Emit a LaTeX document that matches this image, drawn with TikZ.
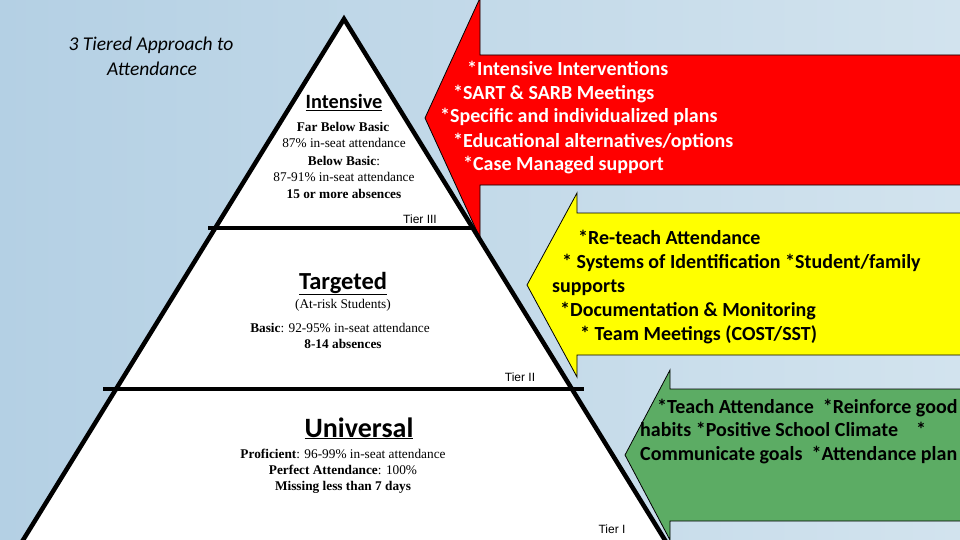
\documentclass[tikz,border=0pt]{standalone}
\usepackage{fontspec}
\setmainfont{Liberation Serif}
\newfontfamily\calfont{Carlito}
\newfontfamily\arifont{Liberation Sans}
\definecolor{bgl}{RGB}{180,208,228}
\definecolor{bgr}{RGB}{210,227,238}
\definecolor{arrred}{RGB}{255,0,0}
\definecolor{arryel}{RGB}{255,255,0}
\definecolor{arrgrn}{RGB}{92,172,100}
\begin{document}
\begin{tikzpicture}[x=1pt,y=-1pt,
  arrowshape/.style={draw=black, line width=0.8pt, line join=miter},
  tierline/.style={line width=4.5pt},
  times/.style={font=\fontsize{13.3}{15}\selectfont, anchor=base, inner sep=0pt},
  tierlab/.style={font=\arifont\fontsize{12}{14}\selectfont, anchor=base, inner sep=0pt},
  armtext/.style={font=\calfont\bfseries\fontsize{20}{23}\selectfont, anchor=base west, inner sep=0pt},
  tiertitle/.style={font=\calfont\bfseries, anchor=base, inner sep=0pt}
]
\clip (0,0) rectangle (960,540);
\shade[left color=bgl, right color=bgr] (0,0) rectangle (960,540);

% arrows
\draw[arrowshape, fill=arrred] (970,55) -- (480,55) -- (480,-2) -- (425,118) -- (480,238) -- (480,185) -- (970,185) -- cycle;
\draw[arrowshape, fill=arryel] (970,213) -- (577,213) -- (577,193) -- (527,285) -- (577,377) -- (577,355) -- (970,355) -- cycle;
\draw[arrowshape, fill=arrgrn] (970,389) -- (670,389) -- (670,370) -- (625,455) -- (670,540) -- (670,521) -- (970,521) -- cycle;

% pyramid
\draw[line width=4.5pt, fill=white, line join=miter] (344,19) -- (20,545) -- (668,545) -- cycle;
\draw[tierline] (208,228) -- (473,228);
\draw[tierline] (103,389) -- (584,389);

% title
\node[font=\calfont\itshape\fontsize{19.5}{22}\selectfont, anchor=base, inner sep=0pt] (t1) at (151,51) {3 Tiered Approach to};
\node[font=\calfont\itshape\fontsize{19.5}{22}\selectfont, anchor=base, inner sep=0pt] (t2) at (152,75.5) {Attendance};

% Intensive
\node[tiertitle, font=\calfont\bfseries\fontsize{20.3}{23}\selectfont] (int) at (344,109) {\underline{Intensive}};
\node[times] (i1) at (343,132) {\textbf{Far Below Basic}};
\node[times] (i2) at (344,148) {87\% in-seat attendance};
\node[times] (i3) at (344,166) {\textbf{Below Basic}:};
\node[times] (i4) at (344,182) {87-91\% in-seat attendance};
\node[times] (i5) at (344,198) {\textbf{15 or more absences}};
\node[tierlab] (tier3) at (420,223) {Tier III};

% Targeted
\node[tiertitle, font=\calfont\bfseries\fontsize{24.5}{28}\selectfont] (tar) at (343,289) {\underline{Targeted}};
\node[times] (a1) at (343,308) {(At-risk Students)};
\node[times] (a2) at (340,332) {\textbf{Basic}: 92-95\% in-seat attendance};
\node[times] (a3) at (343,348) {\textbf{8-14 absences}};
\node[tierlab] (tier2) at (520,381) {Tier II};

% Universal
\node[tiertitle, font=\calfont\bfseries\fontsize{28}{32}\selectfont] (uni) at (359,437) {\underline{Universal}};
\node[times] (u1) at (343,458) {\textbf{Proficient}: 96-99\% in-seat attendance};
\node[times] (u2) at (343,474) {\textbf{Perfect Attendance}: 100\%};
\node[times] (u3) at (343,490) {\textbf{Missing less than 7 days}};
\node[tierlab] (tier1) at (612,533) {Tier I};

% red text
\node[armtext, text=white] (r1) at (467,76) {*Intensive Interventions};
\node[armtext, text=white] (r2) at (453,100) {*SART \& SARB Meetings};
\node[armtext, text=white] (r3) at (440,123) {*Specific and individualized plans};
\node[armtext, text=white] (r4) at (453,148) {*Educational alternatives/options};
\node[armtext, text=white] (r5) at (463,171) {*Case Managed support};

% yellow text
\node[armtext] (y1) at (578,244) {*Re-teach Attendance};
\node[armtext] (y2) at (562,268) {*\ Systems of Identification *Student/family};
\node[armtext] (y3) at (552,292) {supports};
\node[armtext] (y4) at (560,316) {*Documentation \& Monitoring};
\node[armtext] (y5) at (580,340) {*\ Team Meetings (COST/SST)};

% green text
\node[armtext] (g1) at (657,413) {*Teach Attendance\ \ *Reinforce good};
\node[armtext] (g2) at (640,436) {habits *Positive School Climate\ \ \ \ *};
\node[armtext] (g3) at (640,460) {Communicate goals\ \ *Attendance plan};
\end{tikzpicture}
\end{document}
